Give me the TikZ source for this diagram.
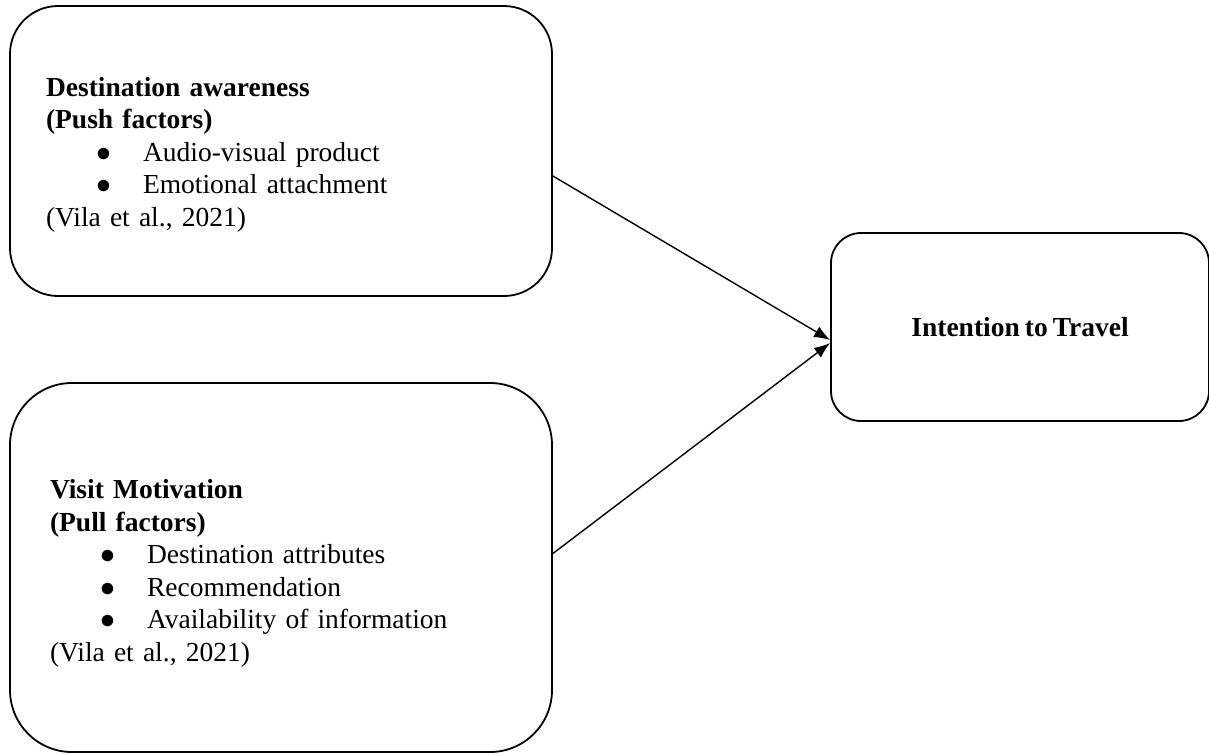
\documentclass[tikz,border=0pt]{standalone}
\usepackage{fontspec}
\setmainfont{Liberation Serif}
\usetikzlibrary{arrows.meta}

\newcommand{\boxfont}{\fontsize{27.5}{32.5}\selectfont\spaceskip 5pt\relax}
\newcommand{\itembul}[1]{\hspace*{50pt}\makebox[47pt][l]{\scalebox{1.2}{$\bullet$}}#1}

\begin{document}
\begin{tikzpicture}[x=1pt,y=-1pt,
box/.style={draw,line width=1.8pt,align=left,font=\boxfont},
link/.style={line width=1.4pt,-{Latex[length=16pt,width=12pt]}}]

\useasboundingbox (0,0) rectangle (1209,753);

\node[box,rounded corners=48pt,text width=470pt,inner xsep=36pt,minimum height=290pt] (push) at (281,151)
{\rule{0pt}{26pt}\textbf{Destination awareness}\\ \textbf{(Push factors)}\\ \itembul{Audio-visual product}\\ \itembul{Emotional attachment}\\ (Vila et al., 2021)};

\node[box,rounded corners=62pt,text width=462pt,inner xsep=40pt,minimum height=369pt] (pull) at (281,567.5)
{\rule{0pt}{31pt}\textbf{Visit Motivation}\\ \textbf{(Pull factors)}\\ \itembul{Destination attributes}\\ \itembul{Recommendation}\\ \itembul{Availability of information}\\ (Vila et al., 2021)};

\node[box,rounded corners=30pt,minimum width=378pt,minimum height=188pt] (intent) at (1020,327) {\textbf{Intention to Travel}};

\draw[link] ([yshift=-25pt]push.east) -- ([yshift=-13pt]intent.west);
\draw[link] ([yshift=14pt]pull.east) -- ([yshift=-16pt]intent.west);
\end{tikzpicture}
\end{document}
